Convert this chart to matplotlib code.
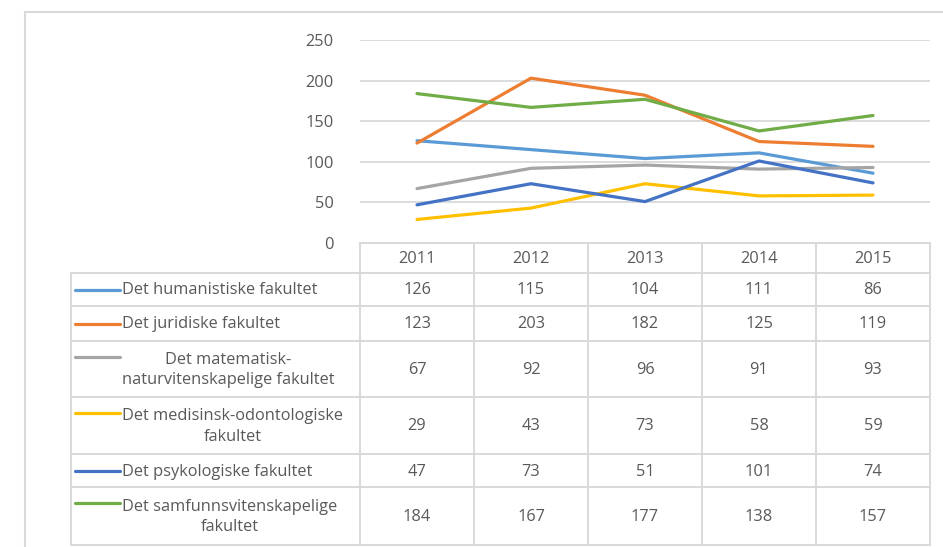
import matplotlib.pyplot as plt
from matplotlib.lines import Line2D

# data
years = ['2011', '2012', '2013', '2014', '2015']
fakulteter = ['Det humanistiske fakultet',
              'Det juridiske fakultet',
              'Det matematisk-\nnaturvitenskapelige fakultet',
              'Det medisinsk-odontologiske\nfakultet',
              'Det psykologiske fakultet',
              'Det samfunnsvitenskapelige\nfakultet']
humanistiske = [126, 115, 104, 111, 86]
juridiske = [123, 203, 182, 125, 119]
matnat = [67, 92, 96, 91, 93]
medisinsk = [29, 43, 73, 58, 59]
psykologiske = [47, 73, 51, 101, 74]
samfunn = [184, 167, 177, 138, 157]
serier = [humanistiske, juridiske, matnat, medisinsk, psykologiske, samfunn]
farger = ['#5B9BD5', '#ED7D31', '#A5A5A5', '#FFC000', '#4472C4', '#70AD47']
yticks = [0, 50, 100, 150, 200, 250]

W, H = 943, 547
tekst = '#595959'
grid = '#D9D9D9'
fs = 11.8
plt.rcParams['font.family'] = ['Open Sans', 'DejaVu Sans']

fig = plt.figure(figsize=(W / 100, H / 100), dpi=100)

def fx(x):
    return x / W

def fy(y):
    return 1 - y / H

# plotteomraade
x0, x1 = 360, 930
ytop, ybot = 40, 243
ax = fig.add_axes([fx(x0), fy(ybot), fx(x1) - fx(x0), (ybot - ytop) / H])
for s, c in zip(serier, farger):
    ax.plot(range(len(years)), s, color=c, lw=2.3, solid_capstyle='round', zorder=3)
ax.set_xlim(-0.5, len(years) - 0.5)
ax.set_ylim(0, 250)
ax.set_yticks(yticks)
ax.set_yticklabels([str(v) for v in yticks], color=tekst, fontsize=fs)
ax.tick_params(axis='y', length=0, pad=19)
ax.set_xticks([])
for v in yticks[1:]:
    ax.axhline(v, color=grid, lw=1.3, zorder=1)
for sp in ax.spines.values():
    sp.set_visible(False)

# ramme rundt diagrammet
fig.add_artist(Line2D([fx(25), fx(25)], [fy(12), 0], color=grid, lw=1.5))
fig.add_artist(Line2D([fx(25), 1], [fy(12), fy(12)], color=grid, lw=1.5))

# tabell
tab_x0 = 71
kol_b = (x1 - x0) / len(years)
kol = [x0 + i * kol_b for i in range(len(years) + 1)]
rader = [273, 306, 341, 397, 454, 487, 545]
hode = 243

def linje(xa, ya, xb, yb):
    fig.add_artist(Line2D([fx(xa), fx(xb)], [fy(ya), fy(yb)], color=grid, lw=1.4))

linje(x0, hode, x1, hode)
for y in rader:
    linje(tab_x0, y, x1, y)
linje(tab_x0, rader[0], tab_x0, rader[-1])
for x in kol:
    linje(x, hode, x, rader[-1])

for i, aar in enumerate(years):
    fig.text(fx(kol[i] + kol_b / 2), fy((hode + rader[0]) / 2 + 1), aar,
             ha='center', va='center', color=tekst, fontsize=fs)

for r, (navn, s, c) in enumerate(zip(fakulteter, serier, farger)):
    ya, yb = rader[r], rader[r + 1]
    ym = (ya + yb) / 2
    if '\n' in navn:
        ylinje = ya + 16
    else:
        ylinje = ym
    fig.add_artist(Line2D([fx(75), fx(120)], [fy(ylinje), fy(ylinje)],
                          color=c, lw=2.3, solid_capstyle='round'))
    fig.text(fx(122), fy(ym + 1), navn, ha='left', va='center', ma='center',
             color=tekst, fontsize=fs, linespacing=1.4)
    for i, v in enumerate(s):
        fig.text(fx(kol[i] + kol_b / 2), fy(ym + 1), str(v),
                 ha='center', va='center', color=tekst, fontsize=fs)

fig.savefig('out.png', dpi=100)
